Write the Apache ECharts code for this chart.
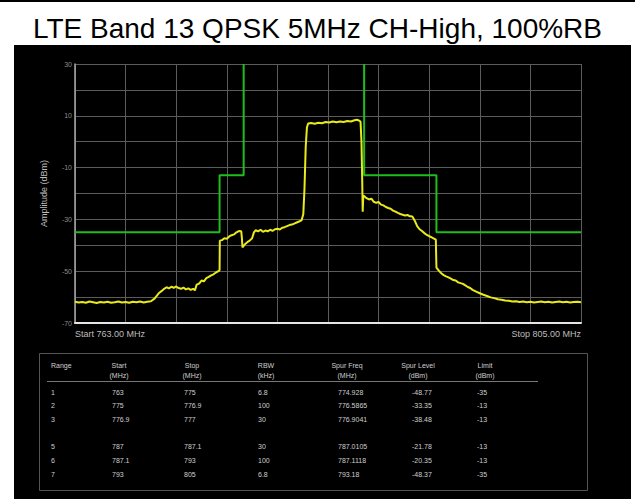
<!DOCTYPE html>
<html>
<head>
<meta charset="utf-8">
<script src="https://cdn.jsdelivr.net/npm/echarts@6.0.0/dist/echarts.min.js"></script>
<style>
  html, body { margin: 0; padding: 0; background: #fff; }
  #wrap { position: relative; width: 635px; height: 499px; overflow: hidden; }
  #topline { position: absolute; left: 0; top: 0; width: 635px; height: 2px; background: #000; }
  #panel { position: absolute; left: 14px; top: 45px; width: 617px; height: 454px; background: #000; }
  #chart { position: absolute; left: 0; top: 0; width: 635px; height: 499px; }
</style>
</head>
<body>
<div id="wrap"><div id="topline"></div><div id="panel"></div><div id="chart"></div></div>
<script>
// trace (MHz / dBm)
const traceFreq = [
  763.0, 763.3, 763.6, 763.9, 764.2, 764.5, 764.8, 765.1, 765.4, 765.7, 766.0, 766.3, 766.6, 766.9,
  767.2, 767.5, 767.8, 768.1, 768.4, 768.7, 769.0, 769.3, 769.6, 769.8, 770.0, 770.2, 770.4, 770.6,
  770.8, 771.0, 771.2, 771.4, 771.6, 771.8, 772.0, 772.2, 772.4, 772.6, 772.8, 772.95, 773.1, 773.3,
  773.5, 773.7, 773.9, 774.1, 774.3, 774.5, 774.7, 774.9, 775.0, 775.02, 775.2, 775.4, 775.6, 775.8,
  776.0, 776.2, 776.4, 776.6, 776.8, 776.85, 776.9, 777.1, 777.3, 777.5, 777.7, 777.85, 778.0, 778.2,
  778.4, 778.6, 778.8, 779.0, 779.2, 779.4, 779.6, 779.8, 780.0, 780.2, 780.4, 780.6, 780.8, 781.0,
  781.2, 781.4, 781.6, 781.8, 781.95, 782.05, 782.15, 782.25, 782.35, 782.6, 782.9, 783.2, 783.5,
  783.8, 784.1, 784.4, 784.7, 785.0, 785.3, 785.6, 785.9, 786.2, 786.4, 786.6, 786.7, 786.78, 786.84,
  786.88, 786.93, 787.0, 787.2, 787.4, 787.6, 787.8, 788.0, 788.2, 788.4, 788.6, 788.8, 789.0, 789.2,
  789.4, 789.6, 789.8, 790.0, 790.2, 790.4, 790.6, 790.8, 791.0, 791.2, 791.4, 791.6, 791.8, 792.0,
  792.2, 792.4, 792.6, 792.8, 792.95, 793.0, 793.2, 793.4, 793.6, 793.8, 794.0, 794.2, 794.4, 794.6,
  794.8, 795.0, 795.2, 795.4, 795.6, 795.8, 796.0, 796.3, 796.6, 796.9, 797.2, 797.5, 797.8, 798.1,
  798.4, 798.7, 799.0, 799.3, 799.6, 799.9, 800.2, 800.5, 800.8, 801.1, 801.4, 801.7, 802.0, 802.3,
  802.6, 802.9, 803.2, 803.5, 803.8, 804.1, 804.4, 804.7, 805.0
];
const traceLevel = [
  -61.8, -62.1, -61.9, -62.2, -61.7, -62.0, -62.3, -61.9, -62.1, -61.8, -62.2, -62.0, -61.7, -62.1,
  -61.9, -62.2, -61.8, -62.0, -61.7, -62.1, -61.8, -61.6, -60.6, -59.4, -58.3, -57.6, -56.8, -56.2,
  -56.6, -56.0, -56.4, -55.9, -56.5, -56.8, -56.3, -57.0, -56.6, -57.2, -56.8, -57.4, -55.2, -54.8,
  -53.6, -53.9, -52.7, -52.2, -51.6, -51.2, -50.5, -50.0, -49.6, -38.2, -38.0, -37.3, -37.5, -36.6,
  -36.1, -35.8, -35.0, -34.5, -34.6, -37.0, -40.8, -39.6, -38.8, -38.2, -37.3, -35.0, -34.2, -34.6,
  -34.0, -34.8, -34.3, -34.6, -34.0, -34.4, -33.8, -33.6, -33.9, -33.2, -33.0, -32.6, -32.2, -32.0,
  -31.6, -31.2, -30.8, -30.4, -28.0, -18.0, -2.0, 5.5, 7.0, 7.2, 6.9, 7.3, 7.1,
  7.6, 7.4, 7.8, 7.5, 7.8, 7.6, 8.0, 7.8, 8.3, 8.5, 8.1, 7.8, 0.0, -15.0,
  -27.0, -20.8, -21.0, -21.8, -22.3, -22.0, -23.2, -23.6, -23.3, -24.3, -24.6, -25.2, -25.6, -25.9,
  -26.6, -27.0, -27.5, -27.9, -28.2, -28.5, -28.3, -28.8, -28.9, -30.5, -32.6, -33.8, -34.5, -35.3,
  -36.0, -36.5, -36.9, -37.4, -37.8, -48.6, -49.8, -50.8, -51.5, -52.0, -52.4, -52.9, -53.4, -53.6,
  -54.3, -54.6, -54.9, -55.5, -56.1, -56.5, -57.2, -57.9, -58.5, -59.1, -59.6, -60.1, -60.4, -60.8,
  -61.0, -61.3, -61.4, -61.7, -61.6, -61.9, -61.7, -62.0, -61.8, -62.1, -61.9, -61.7, -62.0, -61.8,
  -62.1, -61.9, -61.7, -62.0, -61.8, -62.1, -61.9, -61.8, -62.0
];

// spectrum emission mask (green), split around the channel
const limitLowFreq = [763, 775, 775, 777, 777];
const limitLowLevel = [-35, -35, -13, -13, 30];
const limitHighFreq = [787, 787, 793, 793, 805];
const limitHighLevel = [30, -13, -13, -35, -35];

const yLabelValues = [30, 10, -10, -30, -50, -70];
const startLabel = 'Start 763.00 MHz';
const stopLabel = 'Stop 805.00 MHz';

// results table
const tableHead1 = ['Range', 'Start', 'Stop', 'RBW', 'Spur Freq', 'Spur Level', 'Limit'];
const tableHead2 = ['', '(MHz)', '(MHz)', '(kHz)', '(MHz)', '(dBm)', '(dBm)'];
const rangeIds = ['1', '2', '3', '', '5', '6', '7'];
const startMHz = ['763', '775', '776.9', '', '787', '787.1', '793'];
const stopMHz = ['775', '776.9', '777', '', '787.1', '793', '805'];
const rbwKHz = ['6.8', '100', '30', '', '30', '100', '6.8'];
const spurFreq = ['774.928', '776.5865', '776.9041', '', '787.0105', '787.1118', '793.18'];
const spurLevel = ['-48.77', '-33.35', '-38.48', '', '-21.78', '-20.35', '-48.37'];
const limitDbm = ['-35', '-13', '-13', '', '-13', '-13', '-35'];

const chart = echarts.init(document.getElementById('chart'), null, { renderer: 'svg' });

const tableFont = '"Liberation Sans Narrow", "Liberation Sans", Arial, sans-serif';
const colValX = [51, 112, 184, 258, 338, 412, 477];
const colHeadX = [51, 119, 192, 266, 347, 418, 485];
const columns = [rangeIds, startMHz, stopMHz, rbwKHz, spurFreq, spurLevel, limitDbm];

function txt(text, x, y, align) {
  return {
    type: 'text', silent: true,
    style: {
      text: text, x: x, y: y,
      fill: '#cfcfcf', fontSize: 7, fontFamily: tableFont,
      align: align, textAlign: align, verticalAlign: 'middle', textVerticalAlign: 'middle'
    }
  };
}

const tableEls = [
  { type: 'rect', silent: true, shape: { x: 39.5, y: 353.5, width: 548, height: 137 },
    style: { fill: 'none', stroke: '#555', lineWidth: 1 } },
  { type: 'line', silent: true, shape: { x1: 47, y1: 381.5, x2: 538, y2: 381.5 },
    style: { stroke: '#777', lineWidth: 1 } }
];
tableHead1.forEach((h, c) => {
  const al = c === 0 ? 'left' : 'center';
  tableEls.push(txt(h, colHeadX[c], 365, al));
  if (tableHead2[c]) tableEls.push(txt(tableHead2[c], colHeadX[c], 375, al));
});
columns.forEach((col, c) => {
  col.forEach((v, r) => {
    if (v) tableEls.push(txt(v, colValX[c], 392 + r * 13.7, 'left'));
  });
});

chart.setOption({
  animation: false,
  title: {
    text: 'LTE Band 13 QPSK 5MHz CH-High, 100%RB',
    left: 'center', top: 9,
    textStyle: { color: '#000', fontSize: 28, fontWeight: 'normal', fontFamily: '"Liberation Sans", Arial, sans-serif' }
  },
  grid: { left: 75, top: 64, right: 54, bottom: 176 },
  xAxis: {
    type: 'value', min: 763, max: 805, interval: 4.2,
    axisLine: { show: true, onZero: false, lineStyle: { color: '#e6e6e6', width: 2 } },
    axisTick: { show: false },
    splitLine: { show: true, lineStyle: { color: '#5c5c5c', width: 1 } },
    axisLabel: {
      color: '#bdbdbd', fontSize: 9, margin: 6,
      fontFamily: '"Liberation Sans", Arial, sans-serif',
      showMinLabel: true, showMaxLabel: true,
      alignMinLabel: 'left', alignMaxLabel: 'right',
      formatter: v => (v <= 763.001 ? startLabel : (v >= 804.99 ? stopLabel : ''))
    }
  },
  yAxis: {
    type: 'value', min: -70, max: 30, interval: 10,
    name: 'Amplitude (dBm)', nameLocation: 'middle', nameGap: 27,
    nameTextStyle: { color: '#bdbdbd', fontSize: 9, fontFamily: '"Liberation Sans", Arial, sans-serif' },
    axisLine: { show: true, onZero: false, lineStyle: { color: '#a8a8a8', width: 1.5 } },
    axisTick: { show: false },
    splitLine: { show: true, lineStyle: { color: '#5c5c5c', width: 1 } },
    axisLabel: {
      color: '#8c8c8c', fontSize: 7, margin: 3,
      fontFamily: '"Liberation Sans", Arial, sans-serif',
      formatter: v => (yLabelValues.indexOf(v) >= 0 ? String(v) : '')
    }
  },
  series: [
    {
      name: 'Limit low', type: 'line', showSymbol: false, z: 2,
      data: limitLowFreq.map((f, i) => [f, limitLowLevel[i]]),
      lineStyle: { color: '#1fbd1f', width: 2 }
    },
    {
      name: 'Limit high', type: 'line', showSymbol: false, z: 2,
      data: limitHighFreq.map((f, i) => [f, limitHighLevel[i]]),
      lineStyle: { color: '#1fbd1f', width: 2 }
    },
    {
      name: 'Trace', type: 'line', showSymbol: false, z: 3,
      data: traceFreq.map((f, i) => [f, traceLevel[i]]),
      lineStyle: { color: '#e9e91c', width: 2 }
    }
  ],
  graphic: { elements: tableEls }
});
</script>
</body>
</html>
